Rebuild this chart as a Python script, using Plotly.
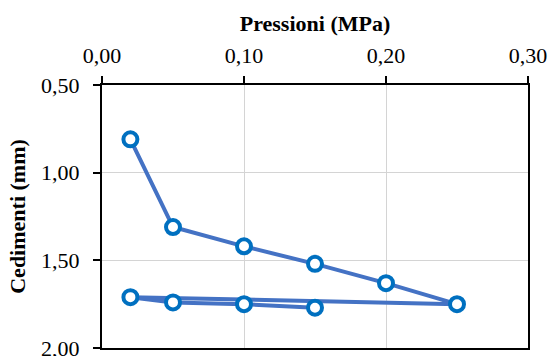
import plotly.graph_objects as go

pressioni = [0.02, 0.05, 0.10, 0.15, 0.20, 0.25, 0.02, 0.05, 0.10, 0.15]
cedimenti = [0.81, 1.31, 1.42, 1.52, 1.63, 1.75, 1.71, 1.74, 1.75, 1.77]

x_ticks = [0.0, 0.1, 0.2, 0.3]
y_ticks = [0.5, 1.0, 1.5, 2.0]

FONT = "Liberation Serif, Times New Roman, serif"

fig = go.Figure()
fig.add_trace(go.Scatter(
    x=pressioni, y=cedimenti, mode="lines+markers",
    line=dict(color="#4472C4", width=4),
    marker=dict(symbol="circle", size=14, color="white",
                line=dict(color="#0070C0", width=4)),
    showlegend=False, cliponaxis=False, hoverinfo="skip",
))

fig.update_layout(
    width=552, height=356,
    margin=dict(l=102, r=24, t=85, b=8, autoexpand=False),
    paper_bgcolor="white", plot_bgcolor="white",
    separators=",.",
    font=dict(family=FONT, size=22, color="black"),
    xaxis=dict(
        side="top", range=[0, 0.3], tickvals=x_ticks, tickformat=".2f",
        showgrid=True, gridcolor="#D4D4D4", gridwidth=1,
        showline=True, linecolor="black", linewidth=2, mirror=True,
        ticks="outside", ticklen=7, tickcolor="black", tickwidth=1.5,
        ticklabelstandoff=4, ticklabeloverflow="allow",
        zeroline=False,
        title=dict(text="<b>Pressioni (MPa)</b>", font=dict(size=22), standoff=6),
    ),
    yaxis=dict(
        range=[2.0, 0.5], tickvals=y_ticks, tickformat=".2f",
        showgrid=True, gridcolor="#D4D4D4", gridwidth=1,
        showline=True, linecolor="black", linewidth=2, mirror=True,
        ticks="outside", ticklen=7, tickcolor="black", tickwidth=1.5,
        ticklabelstandoff=9, ticklabeloverflow="allow",
        zeroline=False,
        title=dict(text="<b>Cedimenti (mm)</b>", font=dict(size=22), standoff=9),
    ),
)

fig.write_html("out.html", config={"displayModeBar": False},
               post_script="document.body.style.margin='0';")
